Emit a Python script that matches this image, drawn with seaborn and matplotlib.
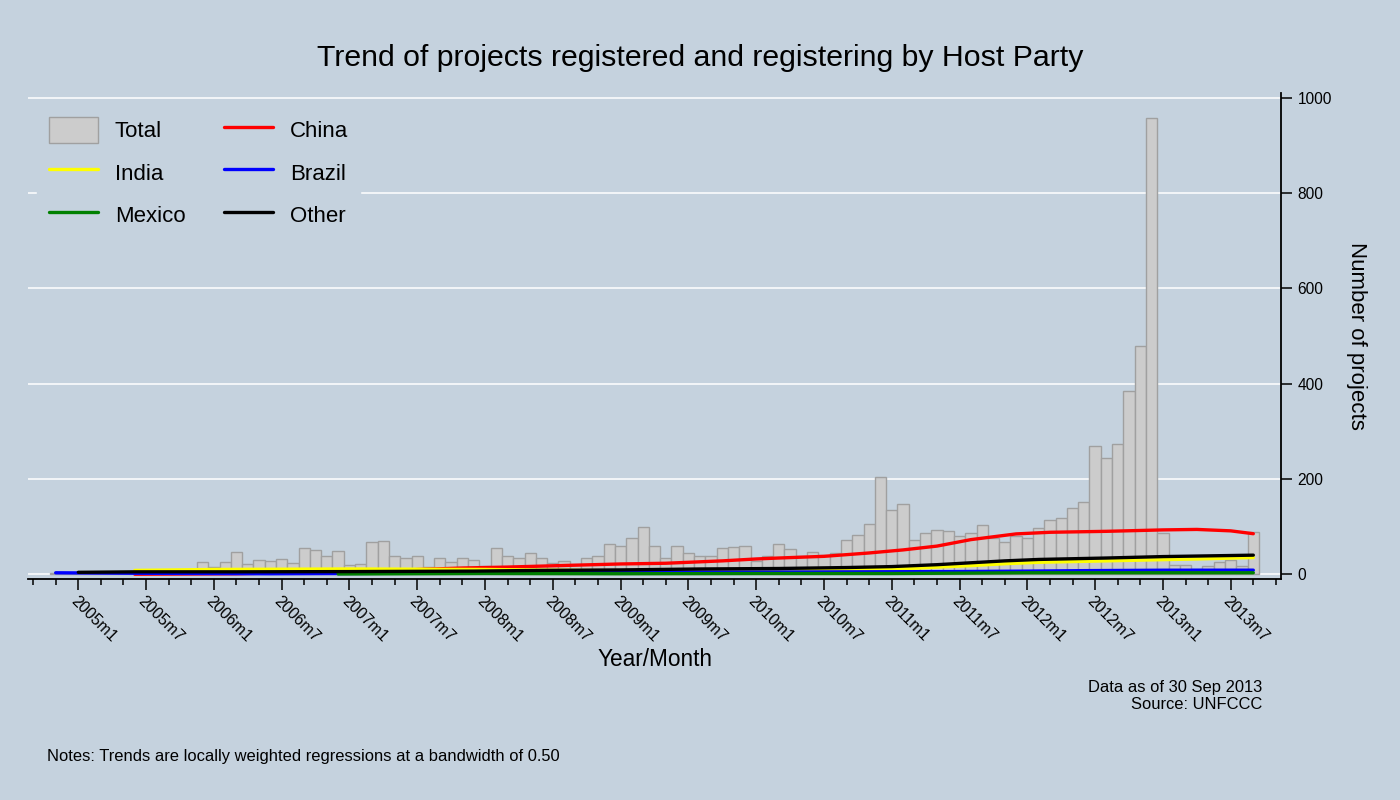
import numpy as np
import pandas as pd
import matplotlib
matplotlib.use("Agg")
import matplotlib.pyplot as plt
import seaborn as sns
from matplotlib.patches import Patch
from matplotlib.lines import Line2D

# Monthly number of projects, 2004m11 .. 2013m9
total = [2, 0,
         2, 0, 2, 2, 2, 3, 3, 4, 4, 5, 6, 25,
         16, 25, 46, 22, 29, 27, 31, 24, 56, 50, 39, 48,
         20, 22, 67, 69, 39, 35, 39, 16, 35, 25, 35, 29,
         18, 56, 39, 33, 45, 35, 24, 27, 20, 33, 39, 64,
         60, 77, 100, 60, 35, 60, 45, 39, 39, 54, 58, 60,
         27, 39, 64, 53, 38, 47, 40, 45, 72, 82, 106, 205,
         135, 148, 72, 87, 93, 91, 80, 87, 104, 77, 68, 80,
         76, 97, 114, 118, 139, 152, 270, 243, 274, 384, 479, 958,
         87, 19, 19, 11, 17, 26, 30, 17, 89]

# Trend (lowess) values
china_at = ["2005m6", "2006m3", "2006m12", "2007m6", "2007m11", "2008m3", "2008m9",
            "2009m1", "2009m5", "2009m8", "2009m10", "2010m1", "2010m3", "2010m7",
            "2010m11", "2011m2", "2011m5", "2011m8", "2011m12", "2012m3", "2012m8",
            "2013m1", "2013m4", "2013m7", "2013m9"]
china = [0, 1, 5, 9, 13, 15, 19, 21.5, 23, 26, 28, 32, 34, 37.5,
         44.6, 51, 59, 72.6, 84.6, 88, 90, 93, 94, 91, 85]

india_at = ["2005m6", "2006m1", "2007m1", "2008m1", "2008m9", "2009m7", "2010m1",
            "2010m6", "2010m11", "2011m3", "2011m5", "2011m8", "2011m11", "2012m2",
            "2012m7", "2012m12", "2013m4", "2013m9"]
india = [8, 10, 11, 10, 8, 6, 7, 8, 10, 12.5, 15, 18, 22, 25, 27.5, 30, 32, 35]

brazil_at = ["2004m11", "2005m6", "2006m6", "2007m6", "2008m6", "2009m6", "2010m6",
             "2011m6", "2012m1", "2012m6", "2013m1", "2013m9"]
brazil = [3, 2, 1, 2, 4, 4.6, 4.8, 5.5, 6.5, 7.5, 8.4, 8.5]

mexico_at = ["2006m12", "2008m1", "2009m1", "2010m1", "2011m1", "2012m1", "2013m1", "2013m9"]
mexico = [0.5, 1.5, 1, 1.5, 1.5, 3, 3, 3]

other_at = ["2005m1", "2005m6", "2006m3", "2007m1", "2007m12", "2008m6", "2009m1",
            "2009m8", "2010m3", "2010m9", "2011m1", "2011m5", "2011m8", "2011m11",
            "2012m2", "2012m8", "2013m1", "2013m9"]
other = [4, 5, 5, 5.5, 6.5, 8, 9, 11, 12, 14, 16, 20, 24, 28, 31, 34, 37, 40]

periods = pd.period_range("2004-11", "2013-09", freq="M")
months = [f"{p.year}m{p.month}" for p in periods]
pos = {m: i for i, m in enumerate(months)}

bg = "#C5D2DE"
sns.set_style("white")
plt.rcParams["font.family"] = ["Liberation Sans", "DejaVu Sans"]
for k in ["text.color", "axes.labelcolor", "xtick.color", "ytick.color"]:
    plt.rcParams[k] = "black"

fig = plt.figure(figsize=(14, 8), dpi=100, facecolor=bg)
ax = fig.add_axes([28 / 1400, 1 - 578.5 / 800, (1281 - 28) / 1400, (578.5 - 93) / 800])
ax.set_facecolor(bg)

df = pd.DataFrame({"pos": np.arange(len(months)), "total": total})
sns.barplot(data=df, x="pos", y="total", native_scale=True, width=1, errorbar=None,
            color="#CCCCCC", edgecolor="#A0A0A0", linewidth=1, saturation=1,
            ax=ax, zorder=2)

series = [("China", china_at, china, "red"),
          ("India", india_at, india, "yellow"),
          ("Brazil", brazil_at, brazil, "blue"),
          ("Mexico", mexico_at, mexico, "green"),
          ("Other", other_at, other, "black")]
for name, at, vals, col in series:
    sns.lineplot(x=[pos[m] for m in at], y=vals, color=col, lw=2.4, ax=ax, zorder=3)

# axes styling
ax.set_xlim(-2.45, 108.45)
ax.set_ylim(-9, 1010)
ax.yaxis.tick_right()
ax.set_yticks([0, 200, 400, 600, 800, 1000])
ax.yaxis.grid(True, color="white", lw=1.1)
ax.xaxis.grid(False)
ax.set_axisbelow(True)
ax.tick_params(axis="y", length=8, width=1.1, pad=4, labelsize=11.2, colors="black")

major = [i for i, m in enumerate(months) if m.endswith("m1") or m.endswith("m7")]
minor = [i for i in range(-2, 109, 2) if i not in major]
ax.set_xticks(major)
ax.set_xticklabels([months[i] for i in major], fontsize=11.5)
ax.set_xticks(minor, minor=True)
ax.tick_params(axis="x", which="major", length=8, width=1.1, pad=3, bottom=True)
ax.tick_params(axis="x", which="minor", length=4.5, width=1.1, bottom=True)
for lab in ax.get_xticklabels():
    lab.set_rotation(-45)
    lab.set_ha("left")
    lab.set_va("top")
    lab.set_rotation_mode("anchor")
ax.set_xlabel("")
ax.set_ylabel("")

for s in ["left", "top"]:
    ax.spines[s].set_visible(False)
for s in ["right", "bottom"]:
    ax.spines[s].set_visible(True)
    ax.spines[s].set_color("black")
    ax.spines[s].set_linewidth(1.3)

# legend
handles = [Patch(facecolor="#CCCCCC", edgecolor="#A0A0A0", lw=1, label="Total"),
           Line2D([], [], color="yellow", lw=2.4, label="India"),
           Line2D([], [], color="green", lw=2.4, label="Mexico"),
           Line2D([], [], color="red", lw=2.4, label="China"),
           Line2D([], [], color="blue", lw=2.4, label="Brazil"),
           Line2D([], [], color="black", lw=2.4, label="Other")]
leg = ax.legend(handles=handles, ncol=2, loc="upper left",
                bbox_to_anchor=(37 / 1400, 1 - 105 / 800), bbox_transform=fig.transFigure,
                fontsize=16, frameon=True, facecolor=bg, edgecolor=bg, framealpha=1,
                fancybox=False, borderpad=0.55, handlelength=2.2, handleheight=1.4,
                handletextpad=0.75, labelspacing=0.74, columnspacing=1.75, borderaxespad=0)
leg.set_zorder(5)

# texts
fig.text(0.5, 1 - 58 / 800, "Trend of projects registered and registering by Host Party",
         ha="center", va="center", fontsize=21.8)
fig.text(654.5 / 1400, 1 - 660 / 800, "Year/Month", ha="center", va="center", fontsize=16.3)
fig.text(1357 / 1400, 1 - 336 / 800, "Number of projects", ha="center", va="center",
         rotation=-90, fontsize=16)
fig.text(1262 / 1400, 1 - 692 / 800, "Data as of 30 Sep 2013", ha="right", va="baseline",
         fontsize=11.9)
fig.text(1262 / 1400, 1 - 709 / 800, "Source: UNFCCC", ha="right", va="baseline",
         fontsize=11.9)
fig.text(47 / 1400, 1 - 756 / 800,
         "Notes: Trends are locally weighted regressions at a bandwidth of 0.50",
         ha="left", va="center", fontsize=11.9)

fig.savefig("out.png", dpi=100, facecolor=bg)
